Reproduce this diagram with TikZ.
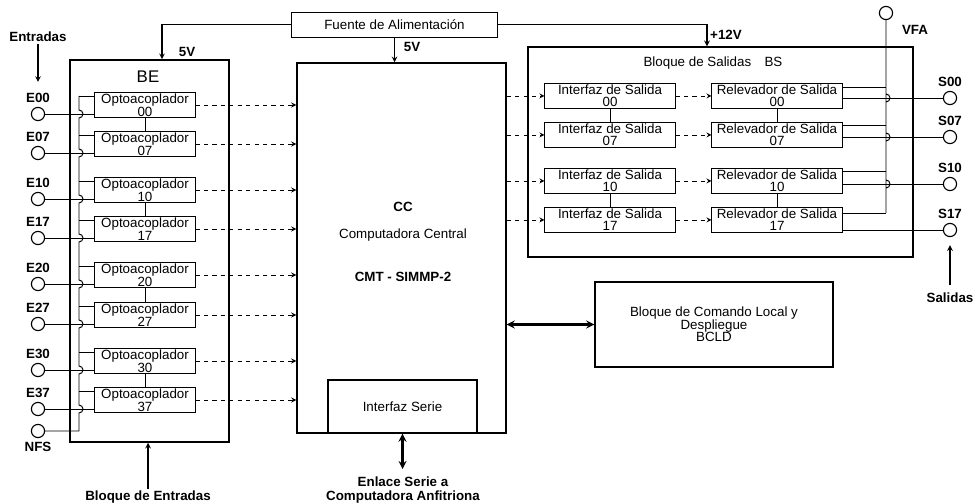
\documentclass[tikz,border=0pt]{standalone}
\usepackage{fontspec}
\setmainfont{Liberation Sans}
\usetikzlibrary{arrows, positioning, calc}

\begin{document}
\begin{tikzpicture}[
    x=0.025cm, y=-0.025cm,
    box/.style = {rectangle, draw=black, line width=0.7pt, inner sep=0pt, align=center,
                  font=\fontsize{9.5}{8.5}\selectfont},
    opto/.style = {box, minimum width=2.5cm, minimum height=0.625cm},
    salida/.style = {box, minimum width=3.25cm, minimum height=0.625cm},
    block/.style = {rectangle, draw=black, line width=1pt, inner sep=0pt, align=center,
                    font=\fontsize{9.5}{11}\selectfont},
    port/.style = {circle, draw=black, line width=0.8pt, minimum size=0.33cm, inner sep=0pt},
    tag/.style = {font=\bfseries\fontsize{9.5}{10}\selectfont, inner sep=1pt, align=center},
    txt/.style = {font=\fontsize{9.5}{11}\selectfont, inner sep=1pt},
    wire/.style = {line width=0.7pt},
    sig/.style = {line width=0.6pt, ->, >=stealth, dashed},
    pwr/.style = {line width=0.8pt, ->, >=stealth},
    bidir/.style = {line width=1.5pt, <->, >=stealth}
]

    \useasboundingbox (0,0) rectangle (976,504);

    % FUENTE
    \node[box, minimum width=5.125cm, minimum height=0.625cm, font=\fontsize{9.5}{11}\selectfont]
        (fuente) at (394.5,24.5) {Fuente de Alimentación};

    % MAIN BLOCKS
    \node[block, minimum width=3.975cm, minimum height=9.55cm] (be) at (149.5,251) {};
    \node[txt, font=\fontsize{12}{14}\selectfont] at (148,77) {BE};

    \node[block, minimum width=5.225cm, minimum height=9.25cm] (cc) at (401.5,248) {};
    \node[txt, font=\bfseries\fontsize{9.5}{11}\selectfont] at (403,207) {CC};
    \node[txt] at (403,235) {Computadora Central};
    \node[txt, font=\bfseries\fontsize{9.5}{11}\selectfont] at (403,277) {CMT - SIMMP-2};
    \node[block, minimum width=3.725cm, minimum height=1.325cm] (serie) at (402.5,406.5) {Interfaz Serie};

    \node[block, minimum width=9.625cm, minimum height=5.25cm] (bs) at (720.5,152) {};
    \node[txt] at (713,63) {Bloque de Salidas\quad BS};

    \node[block, minimum width=5.95cm, minimum height=2.125cm, font=\fontsize{9.5}{9}\selectfont]
        (bcld) at (714,324.5) {Bloque de Comando Local y\\Despliegue\\BCLD};

    % POWER
    \draw[pwr] (fuente.west) -| ($(be.north)+(12.5,0)$);
    \draw[pwr] (fuente.east) -| ($(bs.north)+(-13.5,0)$);
    \draw[pwr] (fuente.south) -- (fuente.south |- cc.north);
    \node[tag] at (187,52) {5V};
    \node[tag] at (412,47) {5V};
    \node[tag] at (726,35) {+12V};

    % BLOQUE DE ENTRADAS
    \foreach \n/\yc in {00/105,07/144,10/190,17/229,20/275,27/315,30/361,37/400} {
        \node[opto] (o\n) at (145,\yc) {Optoacoplador\\\n};
        \node[port] (e\n) at (38,\yc+9) {};
        \node[tag, above=0.06cm of e\n] {E\n};
        \coordinate (b\n) at (79,\yc-9);
        \draw[wire] (e\n) -- (e\n -| o\n.west);
        \draw[wire] (b\n) -- (b\n -| o\n.west);
        \draw[sig] (o\n) -- (o\n -| cc.west);
    }
    \foreach \a/\b in {00/07,10/17,20/27,30/37}
        \draw[wire] (o\a.south) -- (o\b.north);

    \node[port] (nfs) at (38,431) {};
    \node[tag, below=0.06cm of nfs] {NFS};
    \draw[wire] (b00) \foreach \yc in {105,144,190,229,275,315,361,400} {
        -- (79,\yc+5) arc[start angle=90, end angle=-90, radius=0.1cm] } -- (79,431) -- (nfs);

    \node[tag] (entradas) at (38,37) {Entradas};
    \coordinate (ein) at (38,82);
    \draw[pwr] (entradas) -- (ein);

    \node[tag] (bent) at (148,497) {Bloque de Entradas};
    \draw[pwr] (bent) -- (bent |- be.south);

    % BLOQUE DE SALIDAS
    \foreach \n/\yc/\u/\l in {00/96/87/98,07/135/125/137,10/181/171/184,17/220/213/230} {
        \node[salida] (i\n) at (610,\yc) {Interfaz de Salida\\\n};
        \node[salida] (r\n) at (777,\yc) {Relevador de Salida\\\n};
        \draw[sig] (cc.east |- i\n) -- (i\n);
        \draw[sig] (i\n) -- (r\n);
        \node[port] (s\n) at (950,\l) {};
        \node[tag, above=0.06cm of s\n] {S\n};
        \coordinate (v\n) at (886,\u);
        \draw[wire] (v\n -| r\n.east) -- (v\n);
        \draw[wire] (s\n -| r\n.east) -- (s\n);
    }
    \foreach \a/\b in {00/07,10/17} {
        \draw[wire] (i\a.south) -- (i\b.north);
        \draw[wire] (r\a.south) -- (r\b.north);
    }

    \node[port] (vfa) at (886,13) {};
    \node[tag] at (915,30) {VFA};
    \draw[wire] (vfa) \foreach \l in {98,137,184} {
        -- (886,\l-4) arc[start angle=90, end angle=-90, radius=0.1cm] } -- (v17);

    \node[tag] (salidas) at (950,298) {Salidas};
    \draw[pwr, shorten >=0.2cm, shorten <=0.15cm] (salidas) -- (s17);

    % LINKS
    \draw[bidir] (cc.east |- bcld) -- (bcld);
    \node[tag] (enlace) at (403,490) {Enlace Serie a\\Computadora Anfitriona};
    \draw[bidir] (serie.south) -- (serie.south |- 0,469);

\end{tikzpicture}
\end{document}
